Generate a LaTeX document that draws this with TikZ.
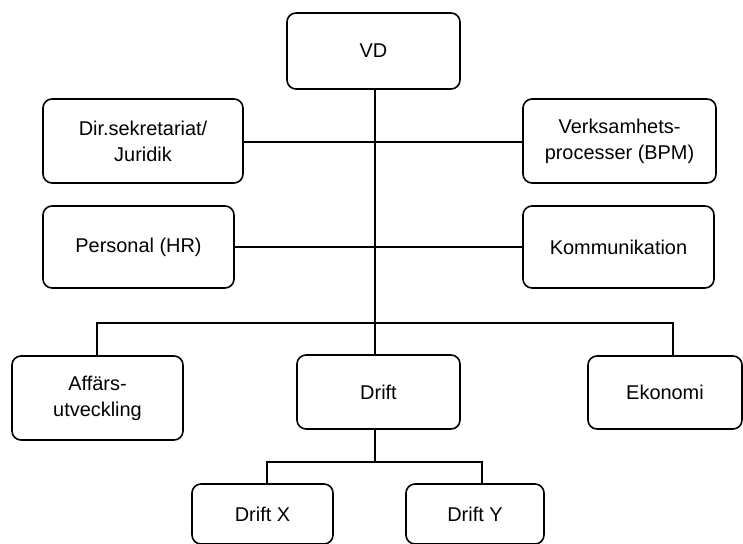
\documentclass[tikz,border=0pt]{standalone}
\usepackage{fontspec}
\setmainfont{Liberation Sans}
\begin{document}
\begin{tikzpicture}[x=1bp,y=-1bp,
  orgbox/.style={draw=black,line width=1.6bp,rounded corners=9bp,align=center,
    inner sep=0pt,font=\fontsize{20}{26}\selectfont},
  conn/.style={draw=black,line width=1.6bp}]
\useasboundingbox (0,0) rectangle (743,544);
\node[orgbox,minimum width=173bp,minimum height=76bp] (vd) at (373.5,51) {VD};
\node[orgbox,minimum width=200bp,minimum height=84bp] (dir) at (143,141) {Dir.sekretariat/\\Juridik};
\node[orgbox,minimum width=193bp,minimum height=84bp] (verk) at (619.5,141) {Verksamhets-\\processer (BPM)};
\node[orgbox,minimum width=191bp,minimum height=82bp] (pers) at (138.5,247) {Personal (HR)};
\node[orgbox,minimum width=191bp,minimum height=82bp] (komm) at (618.5,247) {Kommunikation};
\node[orgbox,minimum width=171bp,minimum height=84bp] (aff) at (97.5,398) {Affärs-\\utveckling};
\node[orgbox,minimum width=163bp,minimum height=74bp] (drift) at (378.5,392) {Drift};
\node[orgbox,minimum width=154bp,minimum height=73bp] (eko) at (665,392.5) {Ekonomi};
\node[orgbox,minimum width=141bp,minimum height=60bp] (dx) at (262.5,514) {Drift X};
\node[orgbox,minimum width=138bp,minimum height=60bp] (dy) at (475,514) {Drift Y};
\coordinate (spT) at (375,89);
\coordinate (spB) at (375,355);
\coordinate (busL) at (97,323);
\coordinate (busR) at (673,323);
\coordinate (dT) at (375,429);
\coordinate (dM) at (375,462);
\coordinate (dL) at (267,462);
\coordinate (dR) at (482,462);
\draw[conn] (spT) -- (spB);
\draw[conn] (dir.east |- 0,142) -- (verk.west |- 0,142);
\draw[conn] (pers.east) -- (komm.west);
\draw[conn] (aff.north -| busL) -- (busL) -- (busR) -- (eko.north -| busR);
\draw[conn] (dT) -- (dM);
\draw[conn] (dx.north -| dL) -- (dL) -- (dR) -- (dy.north -| dR);
\end{tikzpicture}
\end{document}
